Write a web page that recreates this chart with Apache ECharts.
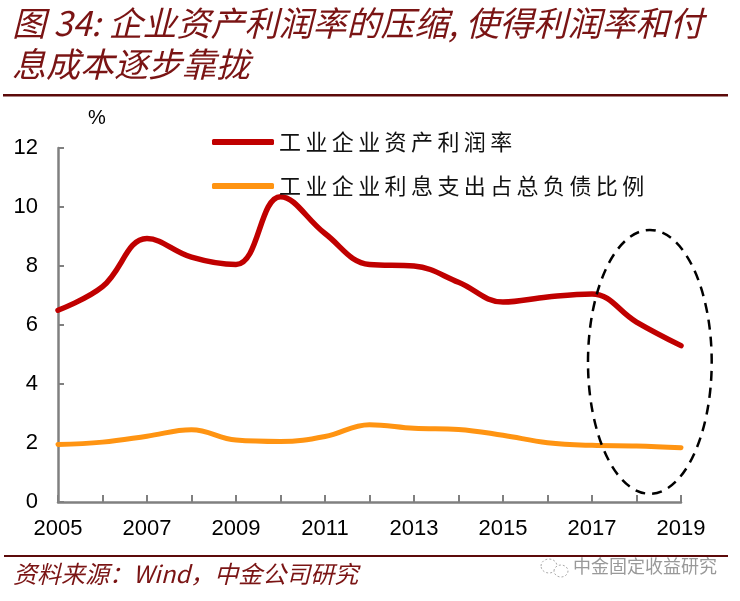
<!DOCTYPE html>
<html>
<head>
<meta charset="utf-8">
<script src="https://cdn.jsdelivr.net/npm/echarts@6/dist/echarts.min.js"></script>
<style>
  html, body { margin: 0; padding: 0; background: #fff; }
  #root { width: 740px; height: 601px; }
</style>
</head>
<body>
<div id="root"></div>
<script>
const years = ['2005', '2006', '2007', '2008', '2009', '2010', '2011', '2012',
  '2013', '2014', '2015', '2016', '2017', '2018', '2019']
const profitRate = [6.5, 7.3, 8.93, 8.3, 8.05, 10.35, 9.1, 8.05, 8.0, 7.45, 6.78, 6.95, 7.05, 6.1, 5.3]
const interestRatio = [1.95, 2.03, 2.23, 2.45, 2.1, 2.05, 2.22, 2.62, 2.5, 2.46, 2.26, 2.01, 1.92, 1.9, 1.84]
const seriesNames = ['工业企业资产利润率', '工业企业利息支出占总负债比例']
const yTicks = [0, 2, 4, 6, 8, 10, 12]

const cjk = '"Noto Sans CJK SC", "Liberation Sans", sans-serif'
const titleColor = '#7a1414'
const ruleColor = '#5c0a0a'

// spread CJK characters a little, like the original's wide legend text
const spread = s => s.split('').join('\u2009')

const chart = echarts.init(document.getElementById('root'))

const option = {
  backgroundColor: '#fff',
  animation: false,
  grid: { left: 58, right: 59, top: 148, bottom: 99 },
  legend: {
    orient: 'vertical',
    left: 207,
    top: 126,
    itemWidth: 62,
    itemHeight: 6,
    itemGap: 22,
    icon: 'roundRect',
    formatter: name => spread(name),
    textStyle: { fontFamily: cjk, fontSize: 22, color: '#111' },
    data: seriesNames
  },
  xAxis: {
    type: 'category',
    data: years,
    boundaryGap: false,
    axisLine: { lineStyle: { color: '#808080', width: 2.5 } },
    axisTick: { inside: true, length: 7, interval: 0, lineStyle: { color: '#808080', width: 2 } },
    axisLabel: { interval: 1, margin: 16, color: '#000', fontSize: 22, fontFamily: 'Liberation Sans, Arial, sans-serif' }
  },
  yAxis: {
    type: 'value',
    min: yTicks[0],
    max: yTicks[yTicks.length - 1],
    interval: 2,
    name: '%',
    nameGap: 20,
    nameTextStyle: { align: 'left', padding: [0, 0, 0, 30], fontSize: 20, color: '#000', fontFamily: 'Liberation Sans, Arial, sans-serif' },
    splitLine: { show: false },
    axisLine: { show: true, lineStyle: { color: '#808080', width: 2.5 } },
    axisTick: { show: true, inside: true, length: 6, lineStyle: { color: '#808080', width: 2 } },
    axisLabel: { margin: 20, color: '#000', fontSize: 22, fontFamily: 'Liberation Sans, Arial, sans-serif' }
  },
  series: [
    {
      name: seriesNames[0],
      type: 'line',
      data: profitRate,
      smooth: 0.4,
      showSymbol: false,
      lineStyle: { color: '#c00000', width: 5.5, cap: 'round' },
      itemStyle: { color: '#c00000' },
      z: 3
    },
    {
      name: seriesNames[1],
      type: 'line',
      data: interestRatio,
      smooth: 0.4,
      showSymbol: false,
      lineStyle: { color: '#ff9412', width: 5, cap: 'round' },
      itemStyle: { color: '#ff9412' },
      z: 2
    }
  ]
}
chart.setOption(option)

// dashed ellipse around the last two years, placed through the axes
// (category axis snaps to whole steps, so interpolate between two years)
const toPx = (i, v) => chart.convertToPixel({ xAxisIndex: 0, yAxisIndex: 0 }, [i, v])
const p13 = toPx(13, 4.75)
const p14 = toPx(14, 0.28)
const step = p14[0] - p13[0]
const cx = p13[0] + step * 0.3
const cy = p13[1]
const rx = step * 1.39
const ry = p14[1] - cy

chart.setOption({
  graphic: [
    {
      type: 'text', left: 12, top: 6,
      style: { text: '图 34: 企业资产利润率的压缩, 使得利润率和付', fill: titleColor,
        font: 'italic 34px ' + cjk }
    },
    {
      type: 'text', left: 12, top: 47,
      style: { text: '息成本逐步靠拢', fill: titleColor, font: 'italic 34px ' + cjk }
    },
    {
      type: 'rect', shape: { x: 3, y: 94, width: 725, height: 2.5 },
      style: { fill: ruleColor }
    },
    {
      type: 'rect', shape: { x: 4, y: 555, width: 724, height: 2 },
      style: { fill: ruleColor }
    },
    {
      type: 'text', left: 13, top: 562,
      style: { text: '资料来源：Wind，中金公司研究', fill: titleColor, font: 'italic 24px ' + cjk }
    },
    {
      type: 'text', left: 573, top: 557,
      style: { text: '中金固定收益研究', fill: '#999', font: '18px ' + cjk }
    },
    {
      type: 'ellipse', shape: { cx: 549, cy: 566, rx: 8, ry: 7 },
      style: { fill: 'none', stroke: '#aaa', lineWidth: 1, lineDash: [2, 2] }
    },
    {
      type: 'ellipse', shape: { cx: 561, cy: 571, rx: 7, ry: 6 },
      style: { fill: '#fff', stroke: '#aaa', lineWidth: 1, lineDash: [2, 2] }
    },
    {
      type: 'ellipse',
      shape: { cx: cx, cy: cy, rx: rx, ry: ry },
      style: { fill: 'none', stroke: '#000', lineWidth: 2.5, lineDash: [10, 7] },
      z: 10
    }
  ]
})
</script>
</body>
</html>
